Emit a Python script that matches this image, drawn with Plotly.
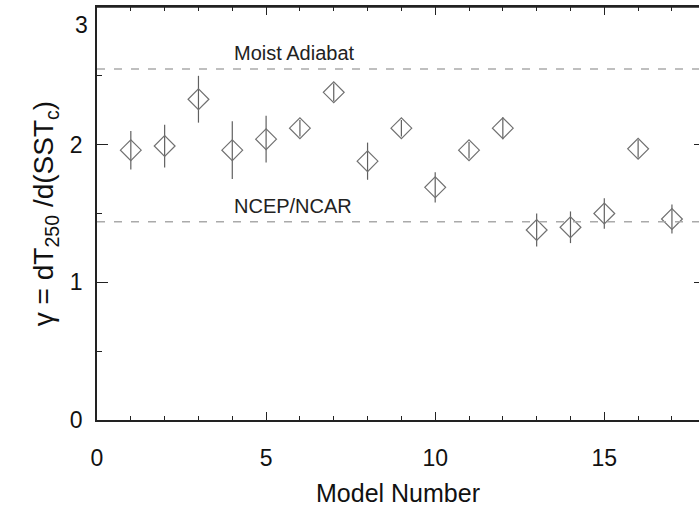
import plotly.graph_objects as go

model = list(range(1, 18))
gamma = [1.96, 1.99, 2.33, 1.96, 2.04, 2.12, 2.38, 1.88, 2.12, 1.69, 1.96, 2.12, 1.38, 1.40, 1.50, 1.97, 1.46]
err = [0.14, 0.155, 0.17, 0.21, 0.17, 0.06, 0.065, 0.135, 0.06, 0.11, 0.06, 0.08, 0.12, 0.115, 0.11, 0.065, 0.105]
ref_names = ["Moist Adiabat", "NCEP/NCAR"]
ref_values = [2.55, 1.44]
x_ticks = [0, 5, 10, 15]
y_ticks = [0, 1, 2, 3]
y_ticktext = ["0", "1", "2", ""]  # top label drawn separately, nudged inside

FONT = "Liberation Sans, Arial, Helvetica, sans-serif"
X_RANGE = [0, 17.8]

fig = go.Figure()
fig.add_trace(go.Scatter(
    x=model, y=gamma, mode="markers",
    marker=dict(symbol="diamond-open", size=16, color="#707070", line=dict(width=1.2, color="#707070")),
    error_y=dict(type="data", array=err, visible=True, color="#606060", thickness=1.2, width=0),
    showlegend=False,
))
# invisible trace for the top / right frame ticks
fig.add_trace(go.Scatter(x=[None], y=[None], xaxis="x2", yaxis="y2", showlegend=False))

for name, v in zip(ref_names, ref_values):
    fig.add_hline(y=v, line=dict(color="#aaaaaa", width=1.5, dash="8px,9px"))
    fig.add_annotation(x=4, y=v, xref="x", yref="y", text=name, showarrow=False,
                       xanchor="left", yanchor="bottom", xshift=0, yshift=3,
                       font=dict(family=FONT, size=20, color="#222222"))

# top frame line of the plot box
fig.add_shape(type="line", xref="paper", yref="paper", x0=0, x1=1, y0=1, y1=1,
              line=dict(color="#222222", width=1.5), layer="above")

# top y tick label
fig.add_annotation(x=0, y=y_ticks[-1], xref="paper", yref="y", text=str(y_ticks[-1]), showarrow=False,
                   xanchor="right", yanchor="top", xshift=-7, yshift=-3,
                   font=dict(family=FONT, size=23, color="#111111"))

fig.update_layout(
    width=699, height=507,
    margin=dict(l=97, r=0, t=7, b=87),
    paper_bgcolor="white", plot_bgcolor="white",
    font=dict(family=FONT, size=23, color="#111111"),
    xaxis=dict(
        range=X_RANGE, tickvals=x_ticks, ticks="inside", ticklen=8, tickwidth=1.2, tickcolor="#222",
        minor=dict(dtick=1, ticks="inside", ticklen=4, tickwidth=1, tickcolor="#222"),
        showline=True, linecolor="#222", linewidth=1.5, mirror=False,
        showgrid=False, zeroline=False, ticklabelstandoff=17, automargin=False,
        title=dict(text="Model Number", font=dict(size=25), standoff=15),
    ),
    xaxis2=dict(
        range=X_RANGE, tickvals=x_ticks, overlaying="x", side="top", ticks="inside", ticklen=8,
        tickwidth=1.2, tickcolor="#222",
        minor=dict(dtick=1, ticks="inside", ticklen=4, tickwidth=1, tickcolor="#222"),
        showticklabels=False, showline=True, linecolor="#222", linewidth=1.5,
        showgrid=False, zeroline=False, automargin=False,
    ),
    yaxis=dict(
        range=[0, 3], tickvals=y_ticks, ticktext=y_ticktext, ticks="inside", ticklen=11, tickwidth=1.2,
        tickcolor="#222",
        minor=dict(dtick=0.5, ticks="inside", ticklen=5, tickwidth=1, tickcolor="#222"),
        showline=True, linecolor="#222", linewidth=1.5, mirror=False,
        showgrid=False, zeroline=False, ticklabelstandoff=8, automargin=False,
        title=dict(text="γ = dT<sub>250</sub> /d(SST<sub>c</sub>)", font=dict(size=28), standoff=8),
    ),
    yaxis2=dict(
        range=[0, 3], tickvals=y_ticks, overlaying="y", side="right", ticks="inside", ticklen=5,
        tickwidth=1.2, tickcolor="#222", showticklabels=False, showline=False, showgrid=False,
        zeroline=False, automargin=False,
    ),
)

fig.write_html("out.html", config={"displayModeBar": False},
               post_script="document.body.style.margin='0';")
